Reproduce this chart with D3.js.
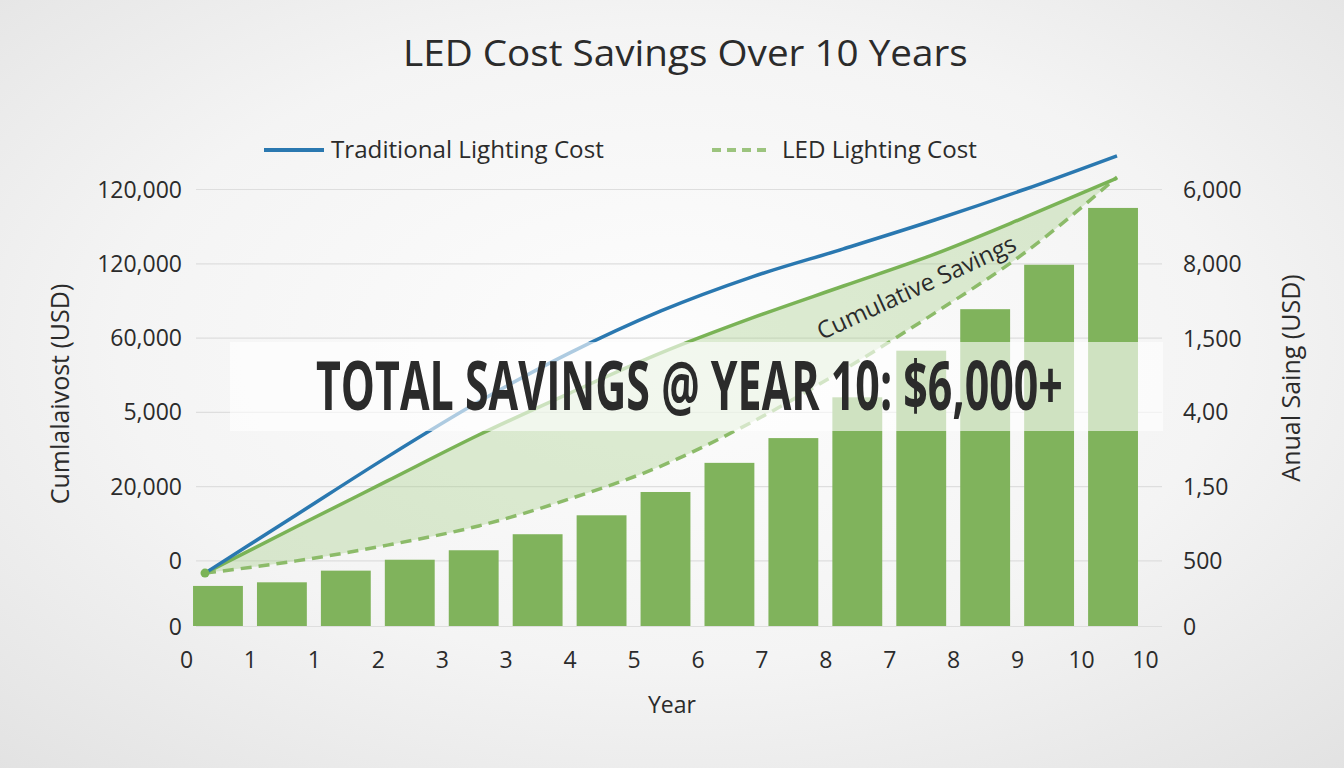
<!DOCTYPE html>
<html>
<head>
<meta charset="utf-8">
<script src="https://cdn.jsdelivr.net/npm/d3@7"></script>
<style>
html,body{margin:0;padding:0;overflow:hidden;background:#f0f0f0;}
svg{display:block;}
text{font-family:"Open Sans","Noto Sans",sans-serif;fill:#2b2b2b;}
</style>
</head>
<body>
<svg id="chart" width="1344" height="768"></svg>
<script>
// ---- data ----
const title = "LED Cost Savings Over 10 Years";
const xTickLabels = ["0","1","1","2","3","3","4","5","6","7","8","7","8","9","10","10"];
const leftTickValues = [0, 15000, 32000, 49000, 66000, 83000, 100000];
const leftTickLabels = ["0","0","20,000","5,000","60,000","120,000","120,000"];
const rightTickValues = [0, 900, 1920, 2940, 3950, 4980, 6000];
const rightTickLabels = ["0","500","1,50","4,00","1,500","8,000","6,000"];
const annualSavings = [550, 600, 760, 910, 1040, 1260, 1520, 1840, 2240, 2580, 3140, 3780, 4350, 4960, 5740];
const years = [0,1,2,3,4,5,6,7,8,9,10];
const traditionalCost = [12100, 25400, 38700, 51300, 62500, 72100, 79900, 86300, 92900, 100000, 107600];
const ledSolidCost = [12100, 22700, 33200, 43700, 53300, 62500, 70500, 77800, 85100, 93600, 102500];
const ledCost = [12100, 14900, 18500, 22900, 29100, 36600, 46700, 58600, 71600, 85600, 102700];
const legendLabels = ["Traditional Lighting Cost", "LED Lighting Cost"];
const leftAxisTitle = "Cumlalaivost (USD)";
const rightAxisTitle = "Anual Saing (USD)";
const xAxisTitle = "Year";
const areaLabel = "Cumulative Savings";
const bannerText = "TOTAL SAVINGS @ YEAR 10: $6,000+";

// ---- setup ----
const svg = d3.select("#chart");
const defs = svg.append("defs");
const rg = defs.append("radialGradient").attr("id","bg").attr("cx","50%").attr("cy","45%").attr("r","75%");
rg.append("stop").attr("offset","0%").attr("stop-color","#fdfdfd");
rg.append("stop").attr("offset","55%").attr("stop-color","#f4f4f4");
rg.append("stop").attr("offset","100%").attr("stop-color","#e2e2e2");
svg.append("rect").attr("width",1344).attr("height",768).attr("fill","url(#bg)");

const plotTop = 189, plotBottom = 626;
const yCum = d3.scaleLinear().domain([0, 100000]).range([plotBottom, plotTop]);
const yAnn = d3.scaleLinear().domain([0, 6000]).range([plotBottom, plotTop]);
const xIdx = d3.scaleLinear().domain([0, xTickLabels.length - 1]).range([186, 1145]);
const xBand = d3.scaleBand().domain(annualSavings.map((d,i)=>i)).range([186, 1145]).paddingInner(0.22).paddingOuter(0.11);
const xYear = d3.scaleLinear().domain([0, 10]).range([205, 1117]);

// helper: fit a text to a given width by horizontal scaling
function fitText(sel, x, y, width) {
  const w = sel.node().getComputedTextLength();
  const sx = width / w;
  sel.attr("x", 0).attr("y", 0).attr("transform", `translate(${x},${y}) scale(${sx},1)`);
}

// gridlines
const grid = svg.append("g").attr("transform","translate(196,0)")
  .call(d3.axisLeft(yCum).tickValues(leftTickValues).tickSize(-(1162-196)).tickFormat(""));
grid.select(".domain").remove();
grid.selectAll("line").attr("stroke","#dedede").attr("stroke-width",1.2);

// left tick labels
const la = svg.append("g").attr("transform","translate(182,0)")
  .call(d3.axisLeft(yCum).tickValues(leftTickValues).tickSize(0).tickPadding(0)
    .tickFormat((d,i)=>leftTickLabels[i]));
la.select(".domain").remove();
la.selectAll("text").attr("font-size",23).attr("fill","#2b2b2b").attr("font-family","'Open Sans',sans-serif").attr("dy","0.35em");

// right tick labels
const ra = svg.append("g").attr("transform","translate(1183,0)")
  .call(d3.axisRight(yAnn).tickValues(rightTickValues).tickSize(0).tickPadding(0)
    .tickFormat((d,i)=>rightTickLabels[i]));
ra.select(".domain").remove();
ra.selectAll("text").attr("font-size",23).attr("fill","#2b2b2b").attr("font-family","'Open Sans',sans-serif").attr("dy","0.35em");

// x tick labels
const xa = svg.append("g").attr("transform","translate(0,660)")
  .call(d3.axisBottom(xIdx).tickValues(d3.range(xTickLabels.length)).tickSize(0).tickPadding(0)
    .tickFormat(i=>xTickLabels[i]));
xa.select(".domain").remove();
xa.selectAll("text").attr("font-size",23).attr("fill","#2b2b2b").attr("font-family","'Open Sans',sans-serif").attr("dy","0.35em");

// bars
svg.append("g").selectAll("rect").data(annualSavings).join("rect")
  .attr("x",(d,i)=>xBand(i)).attr("width",xBand.bandwidth())
  .attr("y",d=>yAnn(d)).attr("height",d=>yAnn(0)-yAnn(d))
  .attr("fill","#80b35c");

// savings area
const pts = years.map((yr,i)=>({yr, t:traditionalCost[i], s:ledSolidCost[i], l:ledCost[i]}));
const area = d3.area().x(d=>xYear(d.yr)).y0(d=>yCum(d.l)).y1(d=>yCum(d.s)).curve(d3.curveMonotoneX);
svg.append("path").datum(pts).attr("d",area).attr("fill","#a9d08c").attr("fill-opacity",0.38);

const line = key => d3.line().x(d=>xYear(d.yr)).y(d=>yCum(d[key])).curve(d3.curveMonotoneX);
svg.append("path").datum(pts).attr("d",line("l")).attr("fill","none")
  .attr("stroke","#8cbb69").attr("stroke-width",3.5).attr("stroke-dasharray","11,7");
svg.append("path").datum(pts).attr("d",line("s")).attr("fill","none")
  .attr("stroke","#7ab356").attr("stroke-width",3.5);
svg.append("path").datum(pts).attr("d",line("t")).attr("fill","none")
  .attr("stroke","#2a78b0").attr("stroke-width",3.5);
svg.append("circle").attr("cx",xYear(0)).attr("cy",yCum(ledCost[0])).attr("r",4.5).attr("fill","#7ab356");

// cumulative savings label
svg.append("text").attr("transform","translate(920,295) rotate(-24.8)")
  .attr("text-anchor","middle").attr("font-size",24).attr("fill","#4f7a3c").text(areaLabel);

// banner
svg.append("rect").attr("x",230).attr("y",342).attr("width",933).attr("height",89)
  .attr("fill","#ffffff").attr("fill-opacity",0.62);
const bt = svg.append("text")
  .attr("font-family","'DejaVu Sans Condensed','Liberation Sans',sans-serif")
  .attr("font-weight","bold").attr("font-size",68).attr("fill","#111").text(bannerText);
fitText(bt, 316, 410, 747);

// title
const tt = svg.append("text")
  .attr("font-family","'Liberation Sans','Open Sans',sans-serif")
  .attr("font-size",37).attr("fill","#111").text(title);
fitText(tt, 403, 66, 565);

// legend
svg.append("line").attr("x1",264).attr("x2",324).attr("y1",150).attr("y2",150)
  .attr("stroke","#2a78b0").attr("stroke-width",4);
const l1 = svg.append("text").attr("font-size",23).attr("fill","#2b2b2b").text(legendLabels[0]);
fitText(l1, 331, 158, 273);
svg.append("line").attr("x1",712).attr("x2",772).attr("y1",150).attr("y2",150)
  .attr("stroke","#9cc47e").attr("stroke-width",4).attr("stroke-dasharray","9,6");
const l2 = svg.append("text").attr("font-size",23).attr("fill","#2b2b2b").text(legendLabels[1]);
fitText(l2, 782, 158, 195);

// axis titles
svg.append("text").attr("transform","translate(69,394) rotate(-90)").attr("text-anchor","middle")
  .attr("font-size",25).attr("fill","#2b2b2b").text(leftAxisTitle);
svg.append("text").attr("transform","translate(1300,378) rotate(-90)").attr("text-anchor","middle")
  .attr("font-size",25).attr("fill","#2b2b2b").text(rightAxisTitle);
svg.append("text").attr("x",672).attr("y",713).attr("text-anchor","middle")
  .attr("font-size",23).attr("fill","#2b2b2b").text(xAxisTitle);
</script>
</body>
</html>
